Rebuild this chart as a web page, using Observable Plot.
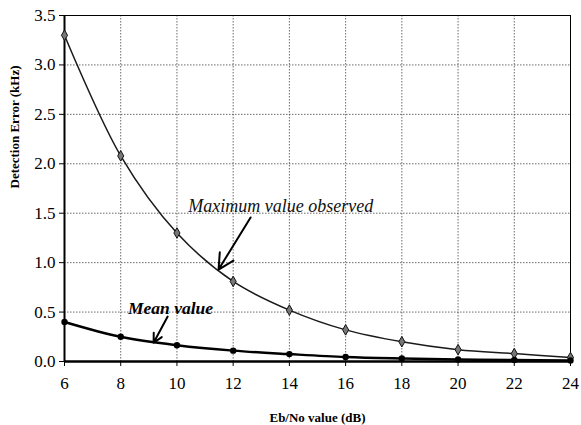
<!DOCTYPE html>
<html><head><meta charset="utf-8">
<script src="https://cdn.jsdelivr.net/npm/d3@7"></script>
<script src="https://cdn.jsdelivr.net/npm/@observablehq/plot@0.6"></script>
<style>
body{margin:0;background:#fff;}
#chart svg, #chart svg text, #chart svg g{font-family:"Liberation Serif","Times New Roman",serif !important;}
</style>
</head><body><div id="chart"></div>
<script>
const ebno = [6, 8, 10, 12, 14, 16, 18, 20, 22, 24];
const maxValue = [3.30, 2.08, 1.30, 0.81, 0.52, 0.32, 0.20, 0.12, 0.08, 0.04];
const meanValue = [0.40, 0.25, 0.165, 0.11, 0.075, 0.045, 0.03, 0.02, 0.015, 0.01];
const yTicks = [0, 0.5, 1.0, 1.5, 2.0, 2.5, 3.0, 3.5];
const labels = ["Maximum value observed", "Mean value"];
const labelX = [13.69, 9.77];
const labelY = [1.57, 0.54];
const arrowX1 = [12.62, 9.67];
const arrowY1 = [1.457, 0.455];
const arrowX2 = [11.48, 9.17];
const arrowY2 = [0.93, 0.19];

const maxData = ebno.map((x, i) => ({x, y: maxValue[i]}));
const meanData = ebno.map((x, i) => ({x, y: meanValue[i]}));
const ann = labels.map((t, i) => ({t, x: labelX[i], y: labelY[i], x1: arrowX1[i], y1: arrowY1[i], x2: arrowX2[i], y2: arrowY2[i]}));

const serif = "Liberation Serif";
const chart = Plot.plot({
  width: 581, height: 425,
  marginLeft: 64, marginRight: 11, marginTop: 15, marginBottom: 64,
  style: {fontFamily: serif, background: "#fff", color: "#000"},
  x: {domain: [6, 24], ticks: ebno, tickFormat: d => d, label: null},
  y: {domain: [0, 3.5], ticks: yTicks, tickFormat: d3.format(".1f"), label: null},
  marks: [
    Plot.gridX(ebno, {stroke: "#444", strokeOpacity: 1, strokeDasharray: "1.5,1.5", strokeWidth: 0.8}),
    Plot.gridY(yTicks, {stroke: "#444", strokeOpacity: 1, strokeDasharray: "1.5,1.5", strokeWidth: 0.8}),
    Plot.frame({stroke: "#000", strokeWidth: 1}),
    Plot.ruleX([6], {stroke: "#000", strokeWidth: 2}),
    Plot.ruleY([0], {stroke: "#000", strokeWidth: 2.5}),
    Plot.axisX({ticks: ebno, tickSize: 5, tickPadding: 10, fontSize: 17, tickFormat: d => d, label: null}),
    Plot.axisY({ticks: yTicks, tickSize: 5, tickPadding: 4, fontSize: 17, tickFormat: d3.format(".1f"), label: null}),
    Plot.line(maxData, {x: "x", y: "y", stroke: "#1a1a1a", strokeWidth: 1.5, curve: "catmull-rom"}),
    Plot.dot(maxData, {x: "x", y: "y", symbol: "diamond", r: 3.2, fill: "#777", stroke: "#111", strokeWidth: 1}),
    Plot.line(meanData, {x: "x", y: "y", stroke: "#000", strokeWidth: 2.5, curve: "catmull-rom"}),
    Plot.dot(meanData, {x: "x", y: "y", r: 3.2, fill: "#000"}),
    Plot.arrow(ann, {x1: "x1", y1: "y1", x2: "x2", y2: "y2", stroke: "#000", strokeWidth: 2, headLength: 13, headAngle: 55}),
    Plot.text(ann.slice(0,1), {x: "x", y: "y", text: "t", fontSize: 18, fontStyle: "italic", fontWeight: "normal", fill: "#111", textAnchor: "middle"}),
    Plot.text(ann.slice(1), {x: "x", y: "y", text: "t", fontSize: 17.5, fontStyle: "italic", fontWeight: "bold", fill: "#000", textAnchor: "middle"}),
    Plot.text(["Detection Error (kHz)"], {frameAnchor: "left", dx: -50, rotate: -90, fontSize: 13, fontWeight: "bold", fill: "#000"}),
    Plot.text(["Eb/No value (dB)"], {frameAnchor: "bottom", dy: 60, fontSize: 13, fontWeight: "bold", fill: "#000"})
  ]
});
document.getElementById("chart").appendChild(chart);
</script>
</body></html>
